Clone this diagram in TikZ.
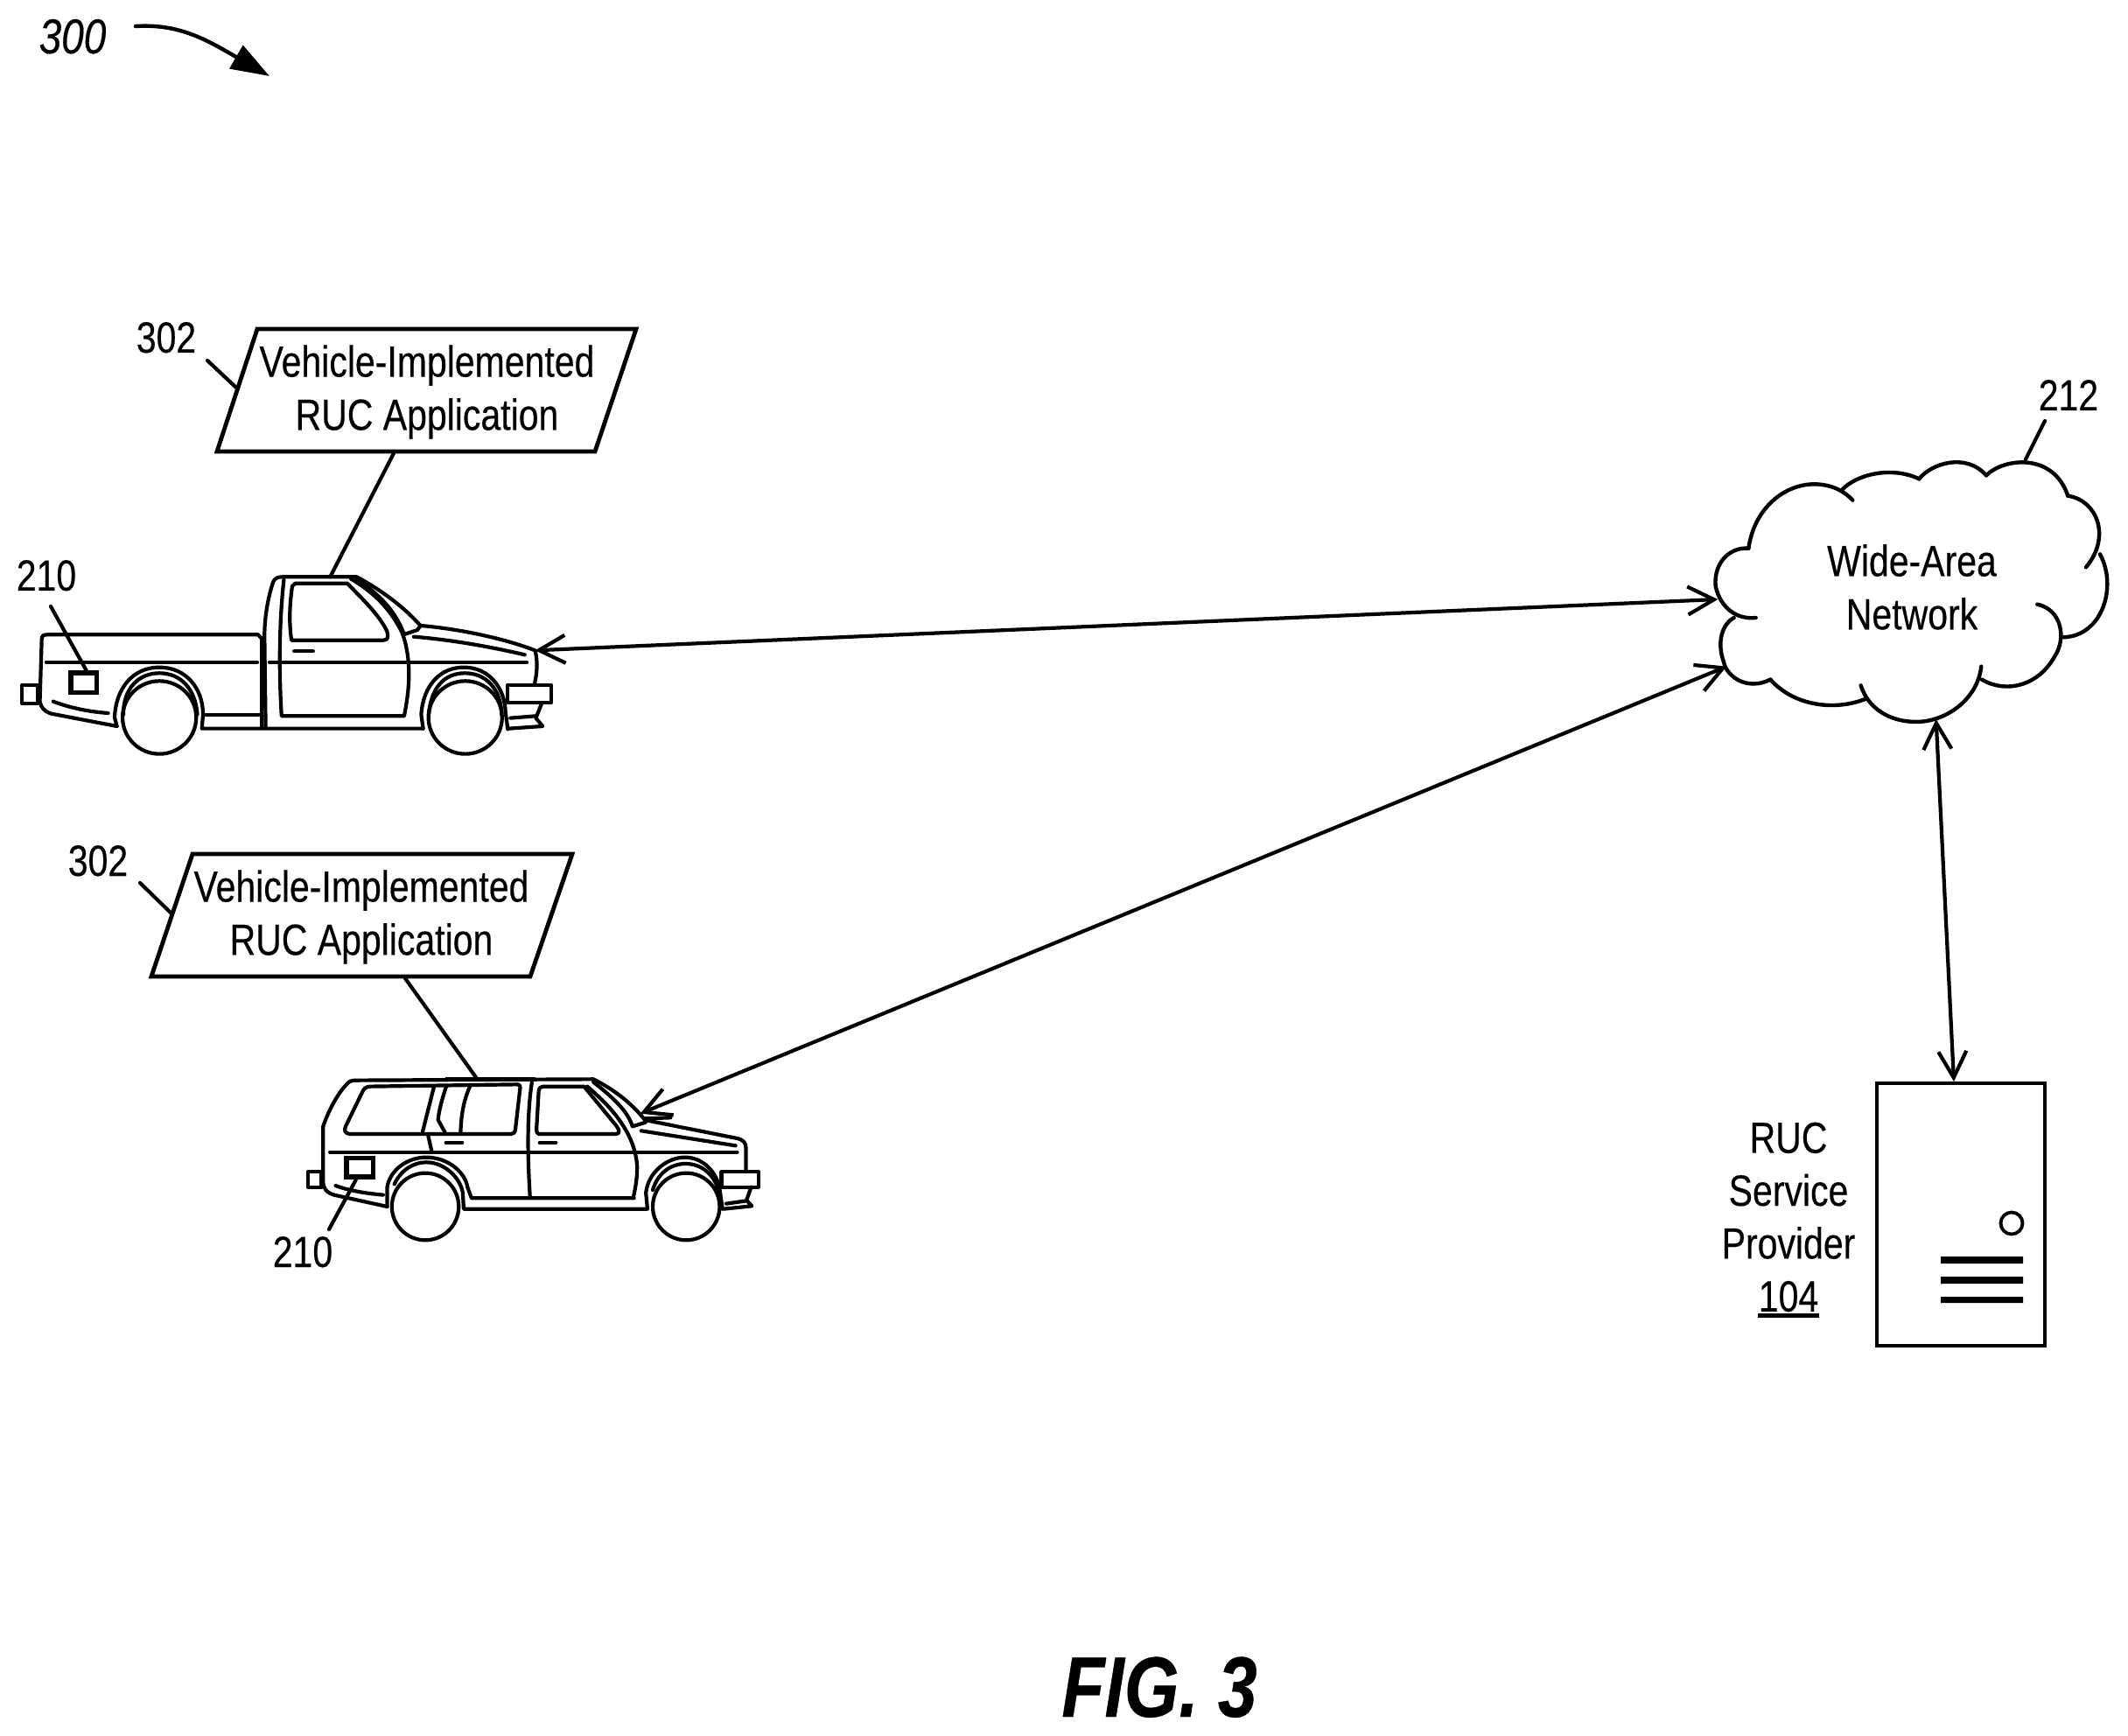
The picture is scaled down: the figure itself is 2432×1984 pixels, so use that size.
\documentclass[tikz,border=0pt]{standalone}
\usepackage{fontspec}
\usetikzlibrary{arrows.meta}
\newfontfamily\lab[FakeStretch=0.82,FakeBold=0.3]{Liberation Sans}
\newfontfamily\labit[FakeStretch=0.82,FakeBold=0.3]{Liberation Sans Italic}
\newfontfamily\labbi[FakeStretch=0.82,FakeBold=0.4]{Liberation Sans Bold Italic}
\tikzset{
  veh/.style={line width=2.1pt,line cap=round,line join=round},
  thickveh/.style={line width=2.8pt,line join=miter},
  lead/.style={line width=2.1pt,line cap=round},
  cloudline/.style={line width=2.2pt,line cap=round,line join=miter},
  box/.style={line width=2.4pt,line join=miter},
  link/.style={line width=2.1pt,{Straight Barb[length=15pt,width=16pt,line width=2.1pt]}-{Straight Barb[length=15pt,width=16pt,line width=2.1pt]}},
  tlabel/.style={inner sep=0pt,align=center,font=\lab\fontsize{25}{30.4}\selectfont},
  ref/.style={inner sep=0pt,anchor=base,font=\lab\fontsize{25}{30}\selectfont},
  slot/.style={fill=black,draw=none},
}
\begin{document}
\begin{tikzpicture}[x=0.5pt,y=-0.5pt]
\useasboundingbox (0,0) rectangle (2432,1984);
\fill[white] (0,0) rectangle (2432,1984);

% figure reference
\node[inner sep=0pt,anchor=base,font=\labit\fontsize{28}{30}\selectfont] (n300) at (83,61) {300};
\coordinate (a300s) at (155,30);
\coordinate (a300e) at (308,87);
\draw[line width=2.2pt,line cap=round,-{Triangle[length=22pt,width=15pt]}] (a300s) .. controls (205,27) and (235,45) .. (a300e);

% application labels
\coordinate (aTL) at (294,376); \coordinate (aTR) at (727,376);
\coordinate (aBR) at (680,516); \coordinate (aBL) at (248,516);
\coordinate (aBm) at (450,518);
\draw[box] (aTL) -- (aTR) -- (aBR) -- (aBL) -- cycle;
\node[tlabel] (app1) at (488,448) {Vehicle-Implemented\\RUC Application};
\coordinate (bTL) at (220,976); \coordinate (bTR) at (654,976);
\coordinate (bBR) at (606,1116); \coordinate (bBL) at (173,1116);
\coordinate (bBm) at (463,1118);
\draw[box] (bTL) -- (bTR) -- (bBR) -- (bBL) -- cycle;
\node[tlabel] (app2) at (413,1048) {Vehicle-Implemented\\RUC Application};

\node[ref] (r302a) at (190,403) {302};
\coordinate (t302a) at (237,412); \coordinate (e302a) at (270,443);
\draw[lead] (t302a) -- (e302a);
\node[ref] (r302b) at (112,1001) {302};
\coordinate (t302b) at (160,1009); \coordinate (e302b) at (196,1044);
\draw[lead] (t302b) -- (e302b);

% truck
\begin{scope}[shift={(0,620)},xscale=0.4337,yscale=0.3333]
\coordinate (truckTop) at (870,118);
\coordinate (truckHood) at (1410,370);
\draw[veh] (308,630) -- (135,587) .. controls (115,578) and (108,565) .. (105,545) -- (110,330) .. controls (110,320) and (115,316) .. (125,316) -- (680,316) -- (690,330) -- (690,632);
\draw[veh] (700,632) -- (697,320) .. controls (697,250) and (708,180) .. (720,135) .. controls (724,122) and (732,118) .. (745,118) -- (940,118) .. controls (1000,160) and (1060,215) .. (1108,285) .. controls (1200,295) and (1320,325) .. (1410,370) .. controls (1418,410) and (1415,450) .. (1408,488);
% bumpers
\draw[veh] (1338,488) -- (1452,488) -- (1452,550) -- (1338,550) -- cycle;
\draw[veh] (58,488) -- (100,488) -- (100,552) -- (58,552) -- cycle;
\draw[veh] (1428,550) -- (1412,602) -- (1430,630) -- (1340,638);
\draw[veh] (1345,602) -- (1412,595);
% arches
\draw[veh] (308,630) -- (302,600) .. controls (305,500) and (350,428) .. (420,428) .. controls (490,428) and (535,500) .. (535,590) -- (532,638) -- (1115,638);
\draw[veh] (325,590) .. controls (325,500) and (365,448) .. (420,448) .. controls (475,448) and (515,500) .. (520,590);
\draw[veh] (535,592) -- (690,592);
\draw[veh] (1115,638) -- (1110,590) .. controls (1115,490) and (1160,428) .. (1222,428) .. controls (1290,428) and (1330,500) .. (1332,580) -- (1338,640);
\draw[veh] (1130,590) .. controls (1135,500) and (1170,448) .. (1225,448) .. controls (1280,448) and (1320,500) .. (1322,590);
% wheels
\draw[veh] (420,600) ellipse [x radius=97,y radius=125];
\draw[veh] (1226,600) ellipse [x radius=97,y radius=125];
% door and window
\draw[veh] (748,128) .. controls (735,280) and (735,450) .. (742,595) -- (1065,595) .. controls (1080,500) and (1085,400) .. (1060,310) .. controls (1030,230) and (985,170) .. (925,125);
\draw[veh] (778,140) -- (915,140) .. controls (960,200) and (1000,250) .. (1020,305) .. controls (1024,325) and (1022,335) .. (1010,335) -- (768,335) .. controls (760,260) and (765,200) .. (770,150) -- (778,140);
\draw[veh] (940,125) .. controls (1000,180) and (1040,230) .. (1065,315) -- (1100,300) -- (1108,285);
\draw[veh] (775,373) -- (825,373);
\draw[veh] (122,411) -- (678,411);
\draw[veh] (710,411) -- (1388,411);
\draw[veh] (1090,323) .. controls (1200,335) and (1300,360) .. (1383,385);
\draw[veh] (140,545) .. controls (180,565) and (230,580) .. (285,585);
\coordinate (unit1) at (228,440);
\draw[thickveh] (187,447) rectangle (255,515);
\end{scope}
\node[ref] (r210a) at (53,675) {210};
\coordinate (t210a) at (58,693);
\draw[lead] (t210a) -- (unit1);
\draw[lead] (aBm) -- (truckTop);

% SUV
\begin{scope}[shift={(330,1200)},xscale=0.3571,yscale=0.3333]
\coordinate (suvTop) at (602,98);
\coordinate (suvHood) at (1125,218);
\draw[veh] (315,537) -- (145,497) .. controls (120,488) and (110,475) .. (110,450) -- (110,262) .. controls (130,200) and (160,145) .. (185,118) .. controls (192,108) and (200,104) .. (215,104) -- (975,100) .. controls (1040,135) and (1095,180) .. (1140,240) -- (1435,303) .. controls (1455,308) and (1463,318) .. (1463,335) -- (1463,415);
\draw[line width=2.4pt] (500,100) -- (790,100);
\draw[veh] (1385,417) -- (1503,417) -- (1503,470) -- (1385,470) -- cycle;
\draw[veh] (62,417) -- (105,417) -- (105,470) -- (62,470) -- cycle;
\draw[veh] (1480,470) -- (1465,515) -- (1482,535) -- (1392,545);
\draw[veh] (1400,527) -- (1465,517);
% arches
\draw[veh] (315,537) -- (315,470) .. controls (325,410) and (380,368) .. (440,368) .. controls (510,368) and (565,420) .. (572,470) -- (585,508) -- (1105,508);
\draw[veh] (338,460) .. controls (360,410) and (400,385) .. (440,385) .. controls (500,385) and (550,440) .. (557,490) -- (560,545) -- (1148,545) -- (1143,490) .. controls (1150,420) and (1210,368) .. (1268,368) .. controls (1320,368) and (1365,410) .. (1378,470) -- (1388,545);
\draw[veh] (1165,480) .. controls (1180,425) and (1220,390) .. (1270,390) .. controls (1320,390) and (1360,425) .. (1375,480);
\draw[veh] (437,537) ellipse [x radius=107,y radius=115];
\draw[veh] (1272,537) ellipse [x radius=107,y radius=115];
% windows
\draw[veh] (260,125) -- (730,118) .. controls (740,118) and (742,125) .. (740,135) -- (725,275) .. controls (722,285) and (718,288) .. (710,288) -- (195,288) .. controls (180,286) and (176,275) .. (182,262) -- (235,145) .. controls (240,132) and (248,126) .. (260,125);
\draw[veh] (465,125) -- (428,282);
\draw[veh] (505,122) .. controls (490,170) and (480,210) .. (478,240) -- (500,282);
\draw[veh] (582,120) .. controls (560,170) and (552,220) .. (550,282);
\draw[veh] (445,288) -- (458,350);
\draw[veh] (778,112) .. controls (765,200) and (762,330) .. (772,500);
\draw[veh] (815,125) -- (945,125) -- (1050,262) .. controls (1060,278) and (1060,288) .. (1045,288) -- (800,288) .. controls (793,285) and (793,280) .. (793,270) -- (800,140) .. controls (802,130) and (806,125) .. (815,125);
\draw[veh] (955,125) .. controls (1050,210) and (1110,300) .. (1115,400) .. controls (1115,440) and (1110,470) .. (1103,505);
\draw[veh] (975,110) .. controls (1040,165) and (1085,210) .. (1100,262) -- (1142,248);
\draw[veh] (1142,235) -- (1222,232);
\draw[veh] (503,318) -- (555,318);
\draw[veh] (803,318) -- (855,318);
\draw[veh] (132,350) -- (1435,350);
\draw[veh] (1128,277) -- (1430,328);
\draw[veh] (150,465) .. controls (190,482) and (250,492) .. (302,497);
\coordinate (unit2) at (215,445);
\draw[thickveh] (185,370) rectangle (270,435);
\end{scope}
\node[ref] (r210b) at (346,1448) {210};
\coordinate (t210b) at (376,1405);
\draw[lead] (t210b) -- (unit2);
\draw[lead] (bBm) -- (suvTop);

% cloud
\begin{scope}[shift={(1930,500)},scale=0.3333]
\draw[cloudline] (205,380) .. controls (225,240) and (330,160) .. (430,160) .. controls (490,160) and (535,185) .. (562,215);
\draw[cloudline] (525,180) .. controls (570,130) and (690,95) .. (790,142);
\draw[cloudline] (790,142) .. controls (830,90) and (950,50) .. (1020,130);
\draw[cloudline] (1020,130) .. controls (1080,70) and (1250,50) .. (1300,200);
\draw[cloudline] (1300,200) .. controls (1400,215) and (1450,340) .. (1362,445);
\draw[cloudline] (1410,400) .. controls (1470,510) and (1420,680) .. (1285,685);
\draw[cloudline] (1195,572) .. controls (1280,590) and (1295,690) .. (1255,750) .. controls (1200,850) and (1090,880) .. (1005,830);
\draw[cloudline] (1003,785) .. controls (990,900) and (880,975) .. (780,975) .. controls (690,975) and (615,930) .. (590,850);
\draw[cloudline] (610,895) .. controls (500,940) and (360,920) .. (280,830);
\draw[cloudline] (280,830) .. controls (200,870) and (130,820) .. (120,770) .. controls (95,700) and (115,640) .. (155,618);
\draw[cloudline] (230,618) .. controls (170,625) and (110,590) .. (92,510) .. controls (85,430) and (140,375) .. (205,380);
\coordinate (cloudL1) at (100,555);
\coordinate (cloudL2) at (130,785);
\coordinate (cloudB) at (848,966);
\coordinate (cloudT) at (1155,75);
\end{scope}
\node[tlabel] (wan) at (2185,671) {Wide-Area\\Network};
\node[ref] (r212) at (2364,469) {212};
\coordinate (t212) at (2337,481);
\draw[lead] (t212) -- (cloudT);

% server
\node[draw,box,inner sep=0pt,outer sep=0pt,minimum width=96pt,minimum height=150pt,anchor=north west] (server) at (2145,1238) {};
\coordinate (serverTop) at (2233,1236);
\draw[line width=1.9pt] (2299,1398) circle [radius=12.5];
\fill[slot] (2218,1436) rectangle (2312,1444) (2218,1459) rectangle (2312,1467) (2218,1482) rectangle (2312,1489);
\node[tlabel,font=\lab\fontsize{25}{30.2}\selectfont] (rsp) at (2044,1391) {RUC\\Service\\Provider\\104};
\coordinate (ulL) at (2009,1503); \coordinate (ulR) at (2079,1503);
\draw[line width=2.5pt] (ulL) -- (ulR);

% links
\draw[link] (truckHood) -- (cloudL1);
\draw[link] (suvHood) -- (cloudL2);
\draw[link] (cloudB) -- (serverTop);

% caption
\node[inner sep=0pt,anchor=base,font=\labbi\fontsize{49}{50}\selectfont] (fig) at (1325,1962) {FIG. 3};
\end{tikzpicture}
\end{document}
